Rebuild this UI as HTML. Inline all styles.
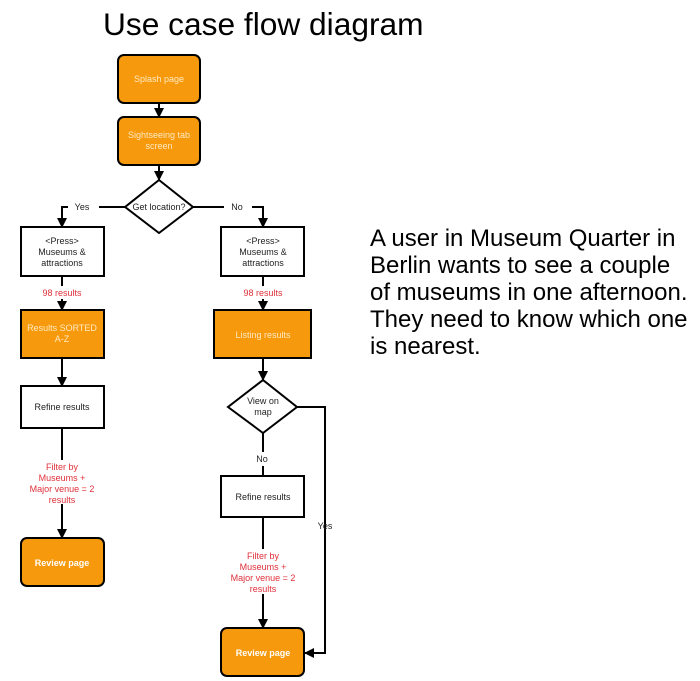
<!DOCTYPE html>
<html><head><meta charset="utf-8"><style>
html,body{margin:0;padding:0;background:#fff;width:700px;height:681px;overflow:hidden}
</style></head><body>
<svg width="700" height="681" viewBox="0 0 700 681" xmlns="http://www.w3.org/2000/svg" font-family="Liberation Sans, Arial, sans-serif">
<defs><marker id="a" markerWidth="10" markerHeight="10" refX="9" refY="5" orient="auto" markerUnits="userSpaceOnUse"><path d="M0,0 L10,5 L0,10 z" fill="#000"/></marker></defs>
<text x="103" y="35" font-size="31.7" fill="#000">Use case flow diagram</text>
<g font-size="24" fill="#000">
<text x="370" y="246">A user in Museum Quarter in</text>
<text x="370" y="273">Berlin wants to see a couple</text>
<text x="370" y="300">of museums in one afternoon.</text>
<text x="370" y="327">They need to know which one</text>
<text x="370" y="354">is nearest.</text>
</g>
<g stroke="#000" stroke-width="2" fill="none">
<line x1="159" y1="103" x2="159" y2="117" marker-end="url(#a)"/>
<line x1="159" y1="165" x2="159" y2="180" marker-end="url(#a)"/>
<line x1="125" y1="207" x2="99" y2="207"/>
<polyline points="68,207 62,207 62,227" marker-end="url(#a)"/>
<line x1="193" y1="207" x2="224" y2="207"/>
<polyline points="252,207 263,207 263,227" marker-end="url(#a)"/>
<line x1="62" y1="276" x2="62" y2="286"/>
<line x1="62" y1="299" x2="62" y2="310" marker-end="url(#a)"/>
<line x1="263" y1="276" x2="263" y2="286"/>
<line x1="263" y1="299" x2="263" y2="310" marker-end="url(#a)"/>
<line x1="62" y1="358" x2="62" y2="386" marker-end="url(#a)"/>
<line x1="263" y1="358" x2="263" y2="380" marker-end="url(#a)"/>
<line x1="62" y1="428" x2="62" y2="460"/>
<line x1="62" y1="504" x2="62" y2="538" marker-end="url(#a)"/>
<line x1="263" y1="433" x2="263" y2="452"/>
<line x1="263" y1="466" x2="263" y2="476"/>
<line x1="263" y1="517" x2="263" y2="549"/>
<line x1="263" y1="594" x2="263" y2="628" marker-end="url(#a)"/>
<polyline points="297,407 325,407 325,653 305,653" marker-end="url(#a)"/>
</g>
<g stroke="#000" stroke-width="2">
<rect x="118" y="55" width="82" height="48" rx="6" fill="#f7990c"/>
<rect x="118" y="117" width="82" height="48" rx="6" fill="#f7990c"/>
<polygon points="159,180 193,207 159,233 125,207" fill="#fff"/>
<rect x="21" y="227" width="83" height="49" fill="#fff"/>
<rect x="221" y="227" width="83" height="49" fill="#fff"/>
<rect x="21" y="310" width="83" height="48" fill="#f7990c"/>
<rect x="214" y="310" width="97" height="48" fill="#f7990c"/>
<rect x="21" y="386" width="83" height="42" fill="#fff"/>
<polygon points="263,380 297,407 263,433 228,407" fill="#fff"/>
<rect x="21" y="538" width="83" height="48" rx="6" fill="#f7990c"/>
<rect x="221" y="476" width="83" height="41" fill="#fff"/>
<rect x="221" y="628" width="83" height="48" rx="6" fill="#f7990c"/>
</g>
<g font-size="9" text-anchor="middle">
<g fill="#ffe9c0">
<text x="159" y="82">Splash page</text>
<text x="159" y="138">Sightseeing tab</text><text x="159" y="149">screen</text>
<text x="62" y="331">Results SORTED</text><text x="62" y="342">A-Z</text>
<text x="263" y="338">Listing results</text>
</g>
<g fill="#fff" font-weight="bold">
<text x="62" y="566">Review page</text>
<text x="263" y="656">Review page</text>
</g>
<g fill="#222">
<text x="159" y="210">Get location?</text>
<text x="82" y="210">Yes</text>
<text x="237" y="210">No</text>
<text x="62" y="244">&lt;Press&gt;</text><text x="62" y="255">Museums &amp;</text><text x="62" y="266">attractions</text>
<text x="263" y="244">&lt;Press&gt;</text><text x="263" y="255">Museums &amp;</text><text x="263" y="266">attractions</text>
<text x="62" y="410">Refine results</text>
<text x="263" y="404">View on</text><text x="263" y="415">map</text>
<text x="262" y="462">No</text>
<text x="263" y="500">Refine results</text>
<text x="325" y="529">Yes</text>
</g>
<g fill="#e0303a">
<text x="62" y="296">98 results</text>
<text x="263" y="296">98 results</text>
<text x="62" y="470">Filter by</text><text x="62" y="481">Museums +</text><text x="62" y="492">Major venue = 2</text><text x="62" y="503">results</text>
<text x="263" y="559">Filter by</text><text x="263" y="570">Museums +</text><text x="263" y="581">Major venue = 2</text><text x="263" y="592">results</text>
</g>
</g>
</svg>
</body></html>
